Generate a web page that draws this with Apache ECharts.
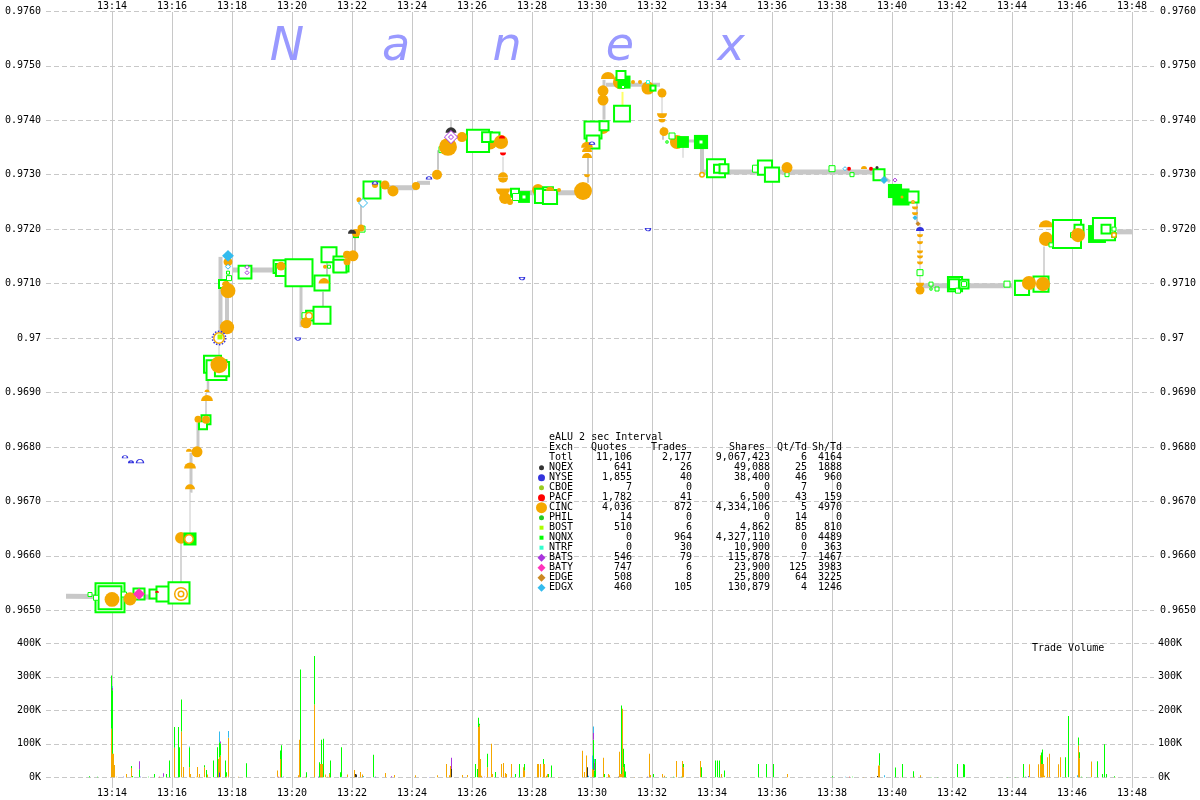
<!DOCTYPE html>
<html><head><meta charset="utf-8">
<style>html,body{margin:0;padding:0;background:#fff}#c{width:1200px;height:800px}</style>
<script src="https://cdn.jsdelivr.net/npm/echarts@6/dist/echarts.min.js"></script>
</head><body><div id="c"></div>
<script>
// Time values are seconds after 13:00:00; mark third value is shares in thousands.
const nameTitle = 'eALU 2 sec Interval';
const brandLetters = ['N','a','n','e','x'];
const tblExch   = ['Totl','NQEX','NYSE','CBOE','PACF','CINC','PHIL','BOST','NQNX','NTRF','BATS','BATY','EDGE','EDGX'];
const tblQuotes = ['11,106','641','1,855','7','1,782','4,036','14','510','0','0','546','747','508','460'];
const tblTrades = ['2,177','26','40','0','41','872','0','6','964','30','79','6','8','105'];
const tblShares = ['9,067,423','49,088','38,400','0','6,500','4,334,106','0','4,862','4,327,110','10,900','115,878','23,900','25,800','130,879'];
const tblQtTd   = ['6','25','46','7','43','5','14','85','0','0','7','125','64','4'];
const tblShTd   = ['4164','1888','960','0','159','4970','0','810','4489','363','1467','3983','3225','1246'];

// price path: t0,p0,t1,p1,weight
const pricePath = [
[748,.96526,978,.96524,5],[978,.96537,978,.96631,1.5],[996,.96631,996,.96716,1],[998,.96716,998,.96789,3],
[1012,.96794,1012,.96844,3],[1028,.96855,1028,.96899,1.5],[1032,.96899,1032,.96941,2.5],[1054,.96941,1054,.96997,1],
[1057,.96997,1057,.97149,4],[1070,.9702,1070,.97079,4],[1080,.97125,1200,.97125,5],[1218,.9702,1218,.97094,3],
[1262,.97057,1262,.97085,2],[1270,.97105,1270,.97155,2],[1326,.97158,1326,.97184,2],[1338,.97204,1338,.97248,2],
[1390,.97276,1450,.97276,5],[1450,.97285,1476,.97285,4],[1492,.97309,1492,.97345,2],[1518,.97382,1518,.97401,1.5],
[1516,.97369,1606,.97369,3],[1622,.97285,1622,.97333,1],[1636,.97267,1770,.97267,5],[1792,.97285,1792,.9734,2],
[1824,.97401,1824,.97474,3],[1828,.97465,1936,.97465,4],[1940,.9741,1940,.97459,1],[1942,.97364,1942,.97388,2],
[1956,.97362,2026,.97362,3],[1982,.97331,1982,.97362,1],[2020,.97303,2020,.97349,4],[2020,.97305,2370,.97305,5],
[2370,.97305,2396,.97287,3],[2450,.97211,2450,.97248,2],[2456,.97098,2456,.97211,1],[2456,.97096,2642,.97096,5],
[2704,.97113,2704,.97168,1.5],[2850,.97195,2882,.97195,5]];
const nbboCross = [[1861,.97428,1861,.97452,2]];

const nqnxOpen = [[836,.96523,96],[836,.96523,62],[796,.96529,2.5],[808,.96523,3.6],[864,.96529,3.6],[876,.96521,4.9],[894,.9653,17],[924,.9653,12],[932,.96523,1.6],[944,.9653,29],[974,.96532,53],[1028,.9685,12],[1022,.9684,10],[1041,.96952,36],[1049,.96941,48],[1060,.96943,26],[1062,.97099,10],[1074,.9711,3.6],[1072,.9712,1.6],[1072,.9709,1.6],[1106,.97121,22],[1176,.97131,22],[1180,.97125,20],[1214,.9712,84],[1260,.97101,29],[1274,.97153,29],[1298,.97136,29],[1296,.97132,22],[1274,.97131,1.6],[1238,.97041,14],[1226,.97041,4.9],[1260,.97042,36],[1340,.972,4.9],[1360,.97272,36],[1388,.97279,2.5],[1500,.97346,4.9],[1572,.97362,58],[1590,.97369,14],[1606,.97369,12],[1646,.97267,10],[1648,.97259,6.4],[1700,.97261,26],[1712,.97268,14],[1716,.97259,26],[1802,.97382,36],[1802,.9736,22],[1824,.9739,12],[1860,.97412,32],[1858,.97482,12],[1862,.97461,1.6],[1960,.97371,4.9],[1950,.9736,1],[2048,.97312,40],[2052,.97311,10],[2064,.97311,12],[2128,.97311,6.4],[2146,.97313,26],[2160,.973,26],[2190,.973,2.5],[2280,.97311,4.9],[2320,.973,2.5],[2374,.973,17],[2442,.97259,17],[2456,.9712,4.9],[2478,.97099,2.5],[2478,.9709,1],[2490,.9709,2.5],[2526,.97099,26],[2524,.97099,14],[2532,.97087,3.6],[2544,.97099,12],[2544,.97099,3.6],[2630,.97099,4.9],[2660,.97092,26],[2698,.97099,29],[2750,.97191,90],[2774,.972,12],[2762,.97189,3.6],[2778,.97189,2.5],[2718,.97171,2.5],[2824,.972,58],[2828,.972,12],[2844,.972,2.5],[2844,.97189,3.6]];
const nqnxSolid = [[996,.96631,17],[1328,.97189,3.6],[1664,.97259,14],[1864,.9747,17],[1922,.97459,4.9],[1982,.9736,14],[2018,.9736,20],[2374,.973,3.6],[2406,.9727,20],[2418,.97259,29],[2810,.97191,32]];
const nqnxCore = [[996,.96631,2.5],[1664,.97259,.9],[1922,.97459,.9],[2018,.9736,.9]];

const cincRear = [[978,.96633,14],[1574,.9736,10],[1596,.9736,22],[1692,.97272,14],[1856,.9747,20],[1912,.97459,17],[1970,.9736,20],[2708,.97182,20]];
const cincRearUp = [[2708,.9721,20]];
const cincRearDown = [[1822,.9738,14]];
const cincFront = [[840,.9652,22],[876,.96521,17],[1028,.9685,6.4],[1012,.96851,4.9],[1010,.96791,12],[1054,.96951,29],[1070,.9702,20],[1072,.97087,22],[1072,.9714,8],[1178,.97132,8],[1266,.97131,1.6],[1228,.97028,12],[1310,.9714,4.9],[1310,.97153,6.4],[1322,.97151,12],[1328,.97193,6.4],[1338,.97202,4.9],[1334,.97254,2.5],[1366,.97281,3.6],[1386,.97281,8],[1402,.9727,12],[1448,.97279,6.4],[1490,.973,10],[1512,.97351,32],[1540,.97369,10],[1618,.9736,20],[1626,.97257,14],[1636,.9725,3.6],[1734,.97272,1.6],[1782,.9727,32],[1822,.97454,12],[1822,.97437,12],[1882,.9747,1.6],[1896,.9747,1.6],[1940,.9745,8],[1944,.97379,8],[2190,.97313,12],[2384,.9729,2.5],[2420,.97259,.9],[2456,.97088,8],[2674,.97101,20],[2702,.97099,20],[2772,.97189,20]];
const cincRing = [[978,.9653,20],[978,.9653,4.9],[994,.96631,10],[1054,.97,14],[2020,.973,3.6],[2442,.9725,1.6],[2844,.97189,3.6],[1234,.97041,6.4]];
const cincUp = [[996,.96766,14],[996,.96727,10],[994,.96794,3.6],[1030,.9689,14],[1030,.96903,2.5],[1068,.97101,6.4],[1264,.97105,12],[1716,.97274,6.4],[1790,.97355,14],[1790,.97346,10],[1790,.97335,10],[1622,.973,10],[2344,.97313,3.6],[1832,.97482,20]];
const cincDown = [[1622,.9729,10],[1622,.97268,20],[1790,.97298,3.6],[1940,.97408,10],[1940,.97399,4.9],[2446,.97239,3.6],[2446,.97228,3.6],[2456,.97188,3.6],[2456,.97175,3.6],[2456,.97158,3.6],[2456,.97149,3.6],[2456,.97138,3.6],[2456,.97098,6.4]];

const nqexUp = [[1518,.97382,12],[1320,.97195,6.4]];
const nqexDot = [[2370,.97313,.9]];
const nyseOpenUp = [[866,.96782,3.6],[878,.96773,2.5],[896,.96774,6.4],[1800,.97358,3.6],[1366,.97285,3.6],[1474,.97294,3.6]];
const nyseOpenDown = [[1212,.96998,3.6],[1912,.97199,3.6],[1660,.97109,3.6]];
const nyseSolidUp = [[2456,.972,6.4]];
const nyseRing = [[1054,.97,22]];
const pacfDown = [[1622,.97338,3.6]];
const pacfUp = [[1620,.97369,3.6],[930,.96534,1.6]];
const pacfDot = [[2314,.97311,1.6],[2358,.97311,1.6]];
const batsOpen = [[1110,.9713,2.5],[1110,.9712,2.5],[1518,.97369,20],[1518,.97369,3.6],[2406,.9729,2.5]];
const batySolid = [[894,.9653,14]];
const edgxSolid = [[1072,.97151,14],[2384,.9729,6.4],[2446,.97221,2.5]];
const edgxOpen = [[1072,.97131,3.6],[1342,.97248,10],[2306,.97311,2.5]];
const edgeSolid = [[2452,.9721,2.5]];
const ntrfOpen = [[1912,.9747,1.6]];
const bostSolid = [[1056,.97002,2.5]];

// volume per 2-sec bucket, thousands of shares
const volNqex = [[1072,2],[1326,10],[1328,8],[1518,25],[1790,30],[1852,2],[2370,4],[2456,1]];
const volNyse = [[862,2],[896,2],[1054,15],[1170,2],[1182,2],[1252,2],[1298,2],[1310,1],[1366,2],[1474,1],[1802,2],[1910,2],[2672,3],[2714,1]];
const volPacf = [[934,2],[1172,2],[1214,2],[1622,2],[2314,2],[2358,1],[2696,2]];
const volCinc = [[838,145],[840,70],[842,70],[844,37],[848,2],[868,10],[878,28],[964,88],[978,137],[982,31],[994,30],[996,10],[1008,2],[1010,31],[1014,10],[1024,30],[1030,8],[1052,55],[1054,45],[1056,65],[1068,3],[1072,116],[1092,2],[1170,18],[1176,55],[1212,6],[1214,110],[1226,2],[1244,217],[1256,40],[1258,40],[1260,40],[1266,8],[1270,2],[1274,10],[1310,7],[1324,22],[1336,16],[1340,8],[1386,13],[1404,7],[1446,6],[1490,6],[1508,40],[1514,6],[1516,34],[1540,7],[1550,7],[1572,150],[1574,155],[1576,55],[1578,5],[1590,30],[1598,100],[1600,10],[1618,40],[1622,41],[1626,13],[1628,10],[1638,40],[1662,30],[1664,20],[1690,40],[1692,40],[1696,40],[1702,40],[1704,40],[1708,5],[1710,10],[1732,1],[1780,79],[1784,16],[1788,65],[1800,25],[1802,20],[1822,58],[1832,10],[1834,6],[1854,76],[1856,10],[1858,10],[1860,205],[1862,30],[1884,1],[1898,1],[1914,70],[1916,7],[1940,10],[1944,5],[1968,49],[1980,49],[1982,30],[2016,49],[2058,10],[2190,10],[2342,1],[2372,35],[2374,35],[2416,1],[2444,2],[2456,5],[2674,39],[2692,39],[2696,64],[2698,40],[2700,40],[2702,40],[2704,5],[2710,60],[2714,69],[2732,39],[2736,60],[2772,95],[2774,57],[2798,47],[2846,1]];
const volNqnx = [[794,3],[810,2],[838,159],[840,190],[878,6],[880,4],[894,24],[912,2],[924,10],[942,2],[948,10],[954,50],[964,62],[972,150],[974,90],[978,95],[994,60],[1024,6],[1028,22],[1042,50],[1050,90],[1054,45],[1056,37],[1066,50],[1068,12],[1108,42],[1176,25],[1178,96],[1216,322],[1228,15],[1244,145],[1254,45],[1258,72],[1262,115],[1274,2],[1276,50],[1296,15],[1298,88],[1362,67],[1566,40],[1570,25],[1572,28],[1574,5],[1590,40],[1606,16],[1646,10],[1654,40],[1664,20],[1702,15],[1712,10],[1718,35],[1802,90],[1804,20],[1806,55],[1824,10],[1858,204],[1862,55],[1864,40],[1866,17],[1922,10],[1948,1],[1962,2],[1978,2],[1982,10],[2018,30],[2046,50],[2050,50],[2054,50],[2064,20],[2132,40],[2148,40],[2162,40],[2280,3],[2320,2],[2374,37],[2406,29],[2420,40],[2442,18],[2478,1],[2490,1],[2530,40],[2542,40],[2544,38],[2630,1],[2646,1],[2662,40],[2666,2],[2698,34],[2700,43],[2746,60],[2752,183],[2772,24],[2774,18],[2778,2],[2788,1],[2810,48],[2820,10],[2824,99],[2828,10],[2844,3]];
const volBats = [[840,7],[894,24],[942,10],[1056,5],[1398,3],[1518,33],[1584,2],[1802,20],[1804,25]];
const volEdgx = [[840,5],[994,2],[1054,32],[1072,20],[1342,4],[1792,5],[1800,40],[1802,20],[1804,10],[2306,2],[2384,6],[2770,6]];

const GRID = '#c8c8c8', ORANGE = '#f5a800', GREEN = '#00ff00', FONT = '"DejaVu Sans Mono", monospace';
const DOME_UP = 'path://M0,1 A1,1 0 0 1 2,1 Z', DOME_DOWN = 'path://M0,0 A1,1 0 0 0 2,0 Z';
const sizeOf = v => Math.sqrt(v * 10);

function marks(data, symbol, color, opt) {
  opt = opt || {};
  const halfH = symbol === DOME_UP || symbol === DOME_DOWN;
  return {
    type: 'scatter', xAxisIndex: 1, yAxisIndex: 0, clip: false, silent: true, animation: false, z: opt.z || 3,
    symbol,
    data: data.map(d => {
      const s = sizeOf(d[2]);
      const bw = opt.open ? (opt.bw || (s >= 9 ? 2 : 1)) : 0;
      return {
        value: d,
        symbolSize: halfH ? [s - bw, (s - bw) / 2] : Math.max(s - bw, 1),
        itemStyle: opt.open ? {color: opt.fill || '#fff', borderColor: color, borderWidth: bw, borderType: opt.borderType || 'solid', opacity: 1} : {color, opacity: 1}
      };
    })
  };
}
function segs(data, color) {
  return {
    type: 'custom', xAxisIndex: 1, yAxisIndex: 0, silent: true, animation: false, z: 2,
    encode: {x: [0, 2], y: [1, 3]}, data,
    renderItem: (p, api) => {
      const a = api.coord([api.value(0), api.value(1)]), b = api.coord([api.value(2), api.value(3)]);
      return {type: 'line', shape: {x1: a[0], y1: a[1], x2: b[0], y2: b[1]}, style: {stroke: color, lineWidth: api.value(4)}};
    }
  };
}
const volLayers = [[volNqex,'#333333'],[volNyse,'#3333dd'],[volPacf,'#ff0000'],[volCinc,ORANGE],[volNqnx,GREEN],[volBats,'#aa33dd'],[volEdgx,'#33bbee']];
const volBase = new Map();
const volSeries = volLayers.map(([rows, color]) => {
  const data = rows.map(([t, v]) => {
    const base = volBase.get(t) || 0;
    volBase.set(t, base + v);
    return [t, base, base + v];
  });
  return {
    type: 'custom', xAxisIndex: 2, yAxisIndex: 2, silent: true, animation: false, z: 3,
    encode: {x: 0, y: [1, 2]}, data,
    renderItem: (p, api) => {
      const a = api.coord([api.value(0), api.value(1)]), b = api.coord([api.value(0), api.value(2)]);
      return {type: 'rect', shape: {x: Math.round(a[0]), y: b[1], width: 1, height: a[1] - b[1]}, style: {fill: color}};
    }
  };
});

const axisText = {fontFamily: FONT, fontSize: 10, color: '#000'};
const clock = v => { const m = Math.round(v / 60); return '13:' + String(m).padStart(2, '0'); };
const priceLabel = v => { const r = +v.toFixed(4); return r === 0.97 ? '0.97' : r.toFixed(4); };
const dash = {show: true, lineStyle: {color: GRID, width: 1, type: [5, 3]}};
const hideAxis = {axisLine: {show: false}, axisTick: {show: false}};

const txt = (text, x, y, align, extra) => ({type: 'text', x, y, silent: true, z: 20,
  style: Object.assign({text, fill: '#000', font: '10px ' + FONT, align: align || 'left', verticalAlign: 'middle'}, extra || {})});

const graphics = [];
[287, 396, 507, 620, 731].forEach((x, i) => graphics.push(Object.assign(txt(brandLetters[i], x, 48, 'center', {fill: '#9999ff', font: 'oblique 46px "DejaVu Sans"'}), {z: 1})));
graphics.push(txt(nameTitle, 549, 437.7));
const headers = [['Exch',549,'left'],['Quotes',627,'right'],['Trades',687,'right'],['Shares',765,'right'],['Qt/Td',807,'right'],['Sh/Td',842,'right']];
headers.forEach(h => graphics.push(txt(h[0], h[1], 447.7, h[2])));
tblExch.forEach((e, i) => {
  const y = 457.7 + i * 10;
  graphics.push(txt(e, 549, y));
  graphics.push(txt(tblQuotes[i], 632, y, 'right'));
  graphics.push(txt(tblTrades[i], 692, y, 'right'));
  graphics.push(txt(tblShares[i], 770, y, 'right'));
  graphics.push(txt(tblQtTd[i], 807, y, 'right'));
  graphics.push(txt(tblShTd[i], 842, y, 'right'));
});
const keyStyle = [null,['c','#333333',2.5],['c','#3333dd',3.5],['c','#99cc22',2.5],['c','#ff0000',3.5],['c',ORANGE,5.5],['c','#22cc22',2.5],['s','#aaff00',2],['s',GREEN,2],['s','#33ffcc',2],['d','#aa33dd',4],['d','#ff33bb',4],['d','#cc8822',4],['d','#33bbee',4]];
keyStyle.forEach((k, i) => {
  if (!k) return;
  const x = 541.5, y = 457.7 + i * 10, r = k[2];
  const shape = k[0] === 'c' ? {type: 'circle', shape: {cx: x, cy: y, r}}
    : k[0] === 's' ? {type: 'rect', shape: {x: x - r, y: y - r, width: 2 * r, height: 2 * r}}
    : {type: 'polygon', shape: {points: [[x, y - r], [x + r, y], [x, y + r], [x - r, y]]}};
  graphics.push(Object.assign(shape, {silent: true, z: 20, style: {fill: k[1]}}));
});
graphics.push(txt('Trade Volume', 1032, 648));

const chart = echarts.init(document.getElementById('c'), null, {renderer: 'canvas'});
chart.setOption({
  animation: false, backgroundColor: '#fff', graphic: graphics,
  grid: [
    {left: 52, width: 1080, top: 12, height: 776},
    {left: 46, width: 1108, top: 11.3, height: 599},
    {left: 46, width: 1108, top: 643.3, height: 134}
  ],
  xAxis: [
    {type: 'value', gridIndex: 0, position: 'top', min: 720, max: 2880, interval: 120, ...hideAxis,
      axisLabel: {...axisText, showMinLabel: false, margin: 1, formatter: clock},
      splitLine: {show: true, showMinLine: false, lineStyle: {color: GRID, width: 1}}},
    {type: 'value', gridIndex: 1, min: 708, max: 2924, show: false},
    {type: 'value', gridIndex: 2, min: 708, max: 2924, show: false},
    {type: 'value', gridIndex: 0, position: 'bottom', min: 720, max: 2880, interval: 120, ...hideAxis,
      axisLabel: {...axisText, showMinLabel: false, margin: 0, formatter: clock}, splitLine: {show: false}}
  ],
  yAxis: [
    {type: 'value', gridIndex: 1, min: 0.965, max: 0.976, interval: 0.001, ...hideAxis, splitLine: dash,
      axisLabel: {...axisText, margin: 5, formatter: priceLabel}},
    {type: 'value', gridIndex: 1, position: 'right', min: 0.965, max: 0.976, interval: 0.001, ...hideAxis, splitLine: {show: false},
      axisLabel: {...axisText, margin: 6, formatter: priceLabel}},
    {type: 'value', gridIndex: 2, min: 0, max: 400, interval: 100, ...hideAxis, splitLine: dash,
      axisLabel: {...axisText, margin: 5, formatter: v => v + 'K'}},
    {type: 'value', gridIndex: 2, position: 'right', min: 0, max: 400, interval: 100, ...hideAxis, splitLine: {show: false},
      axisLabel: {...axisText, margin: 4, formatter: v => v + 'K'}},
    {type: 'value', gridIndex: 0, show: false, min: 0, max: 1}
  ],
  series: [
    {type: 'scatter', xAxisIndex: 0, yAxisIndex: 4, data: [], silent: true},
    {type: 'scatter', xAxisIndex: 3, yAxisIndex: 4, data: [], silent: true},
    segs(pricePath, '#c8c8c8'),
    segs(nbboCross, '#ffff66'),
    marks(cincRear, 'circle', ORANGE),
    marks(cincRearUp, DOME_UP, ORANGE),
    marks(cincRearDown, DOME_DOWN, ORANGE),
    marks(nqnxSolid, 'rect', GREEN),
    marks(nqnxOpen, 'rect', GREEN, {open: true}),
    marks(nqnxCore, 'rect', '#ffffff'),
    marks(cincFront, 'circle', ORANGE),
    marks(cincUp, DOME_UP, ORANGE),
    marks(cincDown, DOME_DOWN, ORANGE),
    marks(cincRing, 'circle', ORANGE, {open: true, bw: 1.5}),
    marks(nyseRing, 'circle', '#3333dd', {open: true, bw: 1.5, fill: 'transparent', borderType: 'dotted'}),
    marks(nqexUp, DOME_UP, '#333333'),
    marks(nqexDot, 'circle', '#333333'),
    marks(nyseOpenUp, DOME_UP, '#3333dd', {open: true, bw: 1}),
    marks(nyseOpenDown, DOME_DOWN, '#3333dd', {open: true, bw: 1}),
    marks(nyseSolidUp, DOME_UP, '#3333dd'),
    marks(pacfDown, DOME_DOWN, '#ff0000'),
    marks(pacfUp, DOME_UP, '#ff0000'),
    marks(pacfDot, 'circle', '#ff0000'),
    marks(batySolid, 'diamond', '#ff33bb'),
    marks(batsOpen, 'diamond', '#aa33dd', {open: true, bw: 1}),
    marks(edgxSolid, 'diamond', '#33bbee'),
    marks(edgxOpen, 'diamond', '#33bbee', {open: true, bw: 1}),
    marks(edgeSolid, 'diamond', '#cc8822'),
    marks(ntrfOpen, 'rect', '#33ffcc', {open: true, bw: 1}),
    marks(bostSolid, 'rect', '#aaff00'),
    ...volSeries
  ]
});
</script></body></html>
